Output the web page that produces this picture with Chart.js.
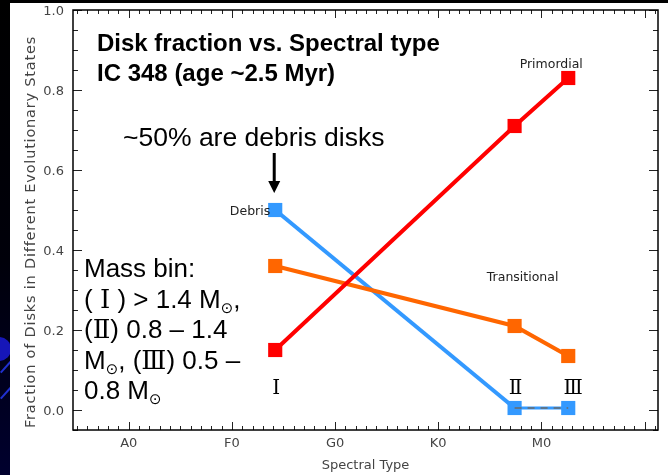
<!DOCTYPE html>
<html>
<head>
<meta charset="utf-8">
<title>Disk fraction vs. Spectral type</title>
<script src="https://cdn.jsdelivr.net/npm/chart.js"></script>
<style>
  html, body { margin: 0; padding: 0; }
  body {
    width: 668px; height: 475px; overflow: hidden; position: relative;
    background: linear-gradient(180deg, #000 0%, #00000a 55%, #00002e 100%);
  }
  .deco-dot {
    position: absolute; left: -13px; top: 337px; width: 24px; height: 24px;
    border-radius: 50%; background: #1616b8;
  }
  .deco-line {
    position: absolute; height: 2px; background: #2030d0; transform-origin: 0 0;
  }
  #wrap { position: absolute; left: 0; top: 0; width: 668px; height: 475px; }
</style>
</head>
<body>
<div class="deco-dot"></div>
<div class="deco-line" style="left:0; top:372px; width:16px; transform:rotate(-48deg)"></div>
<div class="deco-line" style="left:0; top:398px; width:16px; transform:rotate(-48deg)"></div>
<div id="wrap"><canvas id="chart"></canvas></div>
<script>
// spectral type as a number: A0 = 0, F0 = 10, G0 = 20, K0 = 30, M0 = 40
const massBins = ['Ⅰ', 'Ⅱ', 'Ⅲ'];
const spectralPos = [14.2, 37.4, 42.6];
const primordial = [0.15, 0.71, 0.83];
const transitional = [0.36, 0.21, 0.135];
const debris = [0.50, 0.005, 0.005];

const xTickValues = [0, 10, 20, 30, 40];
const xTickLabels = ['A0', 'F0', 'G0', 'K0', 'M0'];
const yTickValues = [0, 0.2, 0.4, 0.6, 0.8, 1.0];

const SANS = '"Liberation Sans", Arial, sans-serif';
const AXIS_FONT = '"DejaVu Sans", sans-serif';
const SERIF = '"DejaVu Serif", "Liberation Serif", serif';

function pts(values) {
    return spectralPos.map((x, i) => ({ x: x, y: values[i] }));
}

// draw a line of text made of runs with their own font / vertical shift
function drawRuns(ctx, x, y, runs) {
    let cx = x;
    runs.forEach(r => {
        ctx.font = r.font;
        ctx.fillText(r.t, cx, y + (r.dy || 0));
        cx += ctx.measureText(r.t).width;
    });
}

// white sheet, frame box and inward tick marks on all four sides
const framePlugin = {
    id: 'frame',
    beforeDraw(chart) {
        const ctx = chart.ctx;
        ctx.save();
        ctx.fillStyle = '#ffffff';
        ctx.fillRect(10, 3, chart.width - 10, chart.height - 3);
        ctx.restore();
    },
    beforeDatasetsDraw(chart) {
        const { ctx, chartArea: a, scales: { x, y } } = chart;
        ctx.save();
        ctx.strokeStyle = '#222';
        ctx.lineWidth = 1;
        for (let v = Math.ceil(x.min); v <= x.max; v++) {
            const px = Math.round(x.getPixelForValue(v)) + 0.5;
            const len = v % 10 === 0 ? 8 : 4;
            ctx.beginPath();
            ctx.moveTo(px, a.bottom); ctx.lineTo(px, a.bottom - len);
            ctx.moveTo(px, a.top); ctx.lineTo(px, a.top + len);
            ctx.stroke();
        }
        for (let k = -1; k <= 20; k++) {
            const py = Math.round(y.getPixelForValue(k * 0.05)) + 0.5;
            const len = k % 4 === 0 ? 9 : 5;
            ctx.beginPath();
            ctx.moveTo(a.left, py); ctx.lineTo(a.left + len, py);
            ctx.moveTo(a.right, py); ctx.lineTo(a.right - len, py);
            ctx.stroke();
        }
        ctx.strokeStyle = '#000';
        ctx.lineWidth = 1.5;
        ctx.strokeRect(a.left, a.top, a.right - a.left, a.bottom - a.top);

        // axis titles
        ctx.fillStyle = '#444';
        ctx.font = '13px ' + AXIS_FONT;
        ctx.textAlign = 'center';
        ctx.textBaseline = 'middle';
        ctx.fillText('Spectral Type', (a.left + a.right) / 2, 466);
        ctx.translate(31, 232);
        ctx.rotate(-Math.PI / 2);
        ctx.font = '14.5px ' + AXIS_FONT;
        ctx.letterSpacing = '0.8px';
        ctx.fillText('Fraction of Disks in Different Evolutionary States', 0, 0);
        ctx.restore();
    },
    afterDatasetsDraw(chart) {
        const { ctx, scales: { x, y } } = chart;
        ctx.save();

        // series names
        ctx.fillStyle = '#222';
        ctx.font = '12.5px ' + AXIS_FONT;
        ctx.textBaseline = 'middle';
        ctx.textAlign = 'center';
        ctx.fillText('Primordial', x.getPixelForValue(spectralPos[2]) - 17, y.getPixelForValue(primordial[2]) - 13);
        ctx.fillText('Transitional', x.getPixelForValue(spectralPos[1]) + 8, y.getPixelForValue(transitional[1]) - 48);
        ctx.textAlign = 'right';
        ctx.fillText('Debris', x.getPixelForValue(spectralPos[0]) - 5, y.getPixelForValue(debris[0]) + 2);

        // mass bin numerals under the points
        ctx.fillStyle = '#000';
        ctx.textAlign = 'center';
        ctx.font = '20px ' + SERIF;
        const shift = [1, 1, 5];
        massBins.forEach((m, i) => {
            ctx.fillText(m, x.getPixelForValue(spectralPos[i]) + shift[i], 389);
        });

        // arrow onto the debris point
        const ax = x.getPixelForValue(spectralPos[0]) - 1;
        const tip = y.getPixelForValue(debris[0]) - 17;
        ctx.strokeStyle = '#000';
        ctx.lineWidth = 3;
        ctx.beginPath();
        ctx.moveTo(ax, tip - 40); ctx.lineTo(ax, tip - 10);
        ctx.stroke();
        ctx.beginPath();
        ctx.moveTo(ax - 6, tip - 12); ctx.lineTo(ax + 6, tip - 12); ctx.lineTo(ax, tip);
        ctx.closePath();
        ctx.fill();

        // headline text
        ctx.textAlign = 'left';
        ctx.textBaseline = 'alphabetic';
        ctx.font = 'bold 24px ' + SANS;
        ctx.fillText('Disk fraction vs. Spectral type', 97, 51);
        ctx.fillText('IC 348 (age ~2.5 Myr)', 97, 81);
        ctx.font = '26.5px ' + SANS;
        ctx.fillText('~50% are debris disks', 123, 146);

        // mass bin legend
        const big = '26px ' + SANS;
        const rom = '26px ' + SERIF;
        const sun = '15px "DejaVu Sans", sans-serif';
        const lines = [
            [{ t: 'Mass bin:', font: big }],
            [{ t: '( ', font: big }, { t: 'Ⅰ', font: rom }, { t: ' ) > 1.4 M', font: big }, { t: '⊙', font: sun, dy: 5 }, { t: ',', font: big }],
            [{ t: '(', font: big }, { t: 'Ⅱ', font: rom }, { t: ') 0.8 – 1.4', font: big }],
            [{ t: 'M', font: big }, { t: '⊙', font: sun, dy: 5 }, { t: ', (', font: big }, { t: 'Ⅲ', font: rom }, { t: ') 0.5 –', font: big }],
            [{ t: '0.8 M', font: big }, { t: '⊙', font: sun, dy: 5 }]
        ];
        lines.forEach((runs, i) => drawRuns(ctx, 84, 277 + i * 30.5, runs));
        ctx.restore();
    }
};

const tickFont = { family: AXIS_FONT, size: 13 };

new Chart(document.getElementById('chart'), {
    type: 'line',
    data: {
        datasets: [
            {
                label: 'Debris II-III',
                data: pts(debris).slice(1),
                borderColor: '#6a6a6a',
                borderWidth: 1.5,
                borderDash: [7, 6],
                pointRadius: 0
            },
            {
                label: 'Primordial',
                data: pts(primordial),
                borderColor: '#ff0000',
                backgroundColor: '#ff0000',
                borderWidth: 4,
                pointStyle: 'rect',
                pointRadius: 10,
                pointBorderWidth: 0
            },
            {
                label: 'Transitional',
                data: pts(transitional),
                borderColor: '#ff6600',
                backgroundColor: '#ff6600',
                borderWidth: 4,
                pointStyle: 'rect',
                pointRadius: 10,
                pointBorderWidth: 0
            },
            {
                label: 'Debris',
                data: pts(debris),
                borderColor: '#3399ff',
                backgroundColor: '#3399ff',
                borderWidth: 4,
                pointStyle: 'rect',
                pointRadius: 10,
                pointBorderWidth: 0,
                segment: { borderWidth: c => c.p0DataIndex === 1 ? 3 : 4 }
            }
        ]
    },
    options: {
        responsive: true,
        maintainAspectRatio: false,
        animation: false,
        layout: { padding: { left: 10, top: 10, right: 5, bottom: 0 } },
        plugins: { legend: { display: false }, tooltip: { enabled: false } },
        elements: { line: { tension: 0 } },
        scales: {
            x: {
                type: 'linear',
                min: -5.4,
                max: 51.3,
                grid: { display: false, drawTicks: false },
                border: { display: false },
                afterBuildTicks: s => { s.ticks = xTickValues.map(v => ({ value: v })); },
                afterFit: s => { s.height = 45; s.paddingLeft = 0; s.paddingRight = 0; },
                ticks: {
                    padding: 6,
                    color: '#444',
                    font: tickFont,
                    maxRotation: 0,
                    autoSkip: false,
                    callback: v => xTickLabels[xTickValues.indexOf(v)]
                }
            },
            y: {
                type: 'linear',
                min: -0.05,
                max: 1.0,
                grid: { display: false, drawTicks: false },
                border: { display: false },
                afterBuildTicks: s => { s.ticks = yTickValues.map(v => ({ value: v })); },
                afterFit: s => { s.width = 63; s.paddingTop = 0; s.paddingBottom = 0; },
                ticks: {
                    padding: 9,
                    labelOffset: 2,
                    color: '#444',
                    font: tickFont,
                    callback: v => v.toFixed(1)
                }
            }
        }
    },
    plugins: [framePlugin]
});
</script>
</body>
</html>
